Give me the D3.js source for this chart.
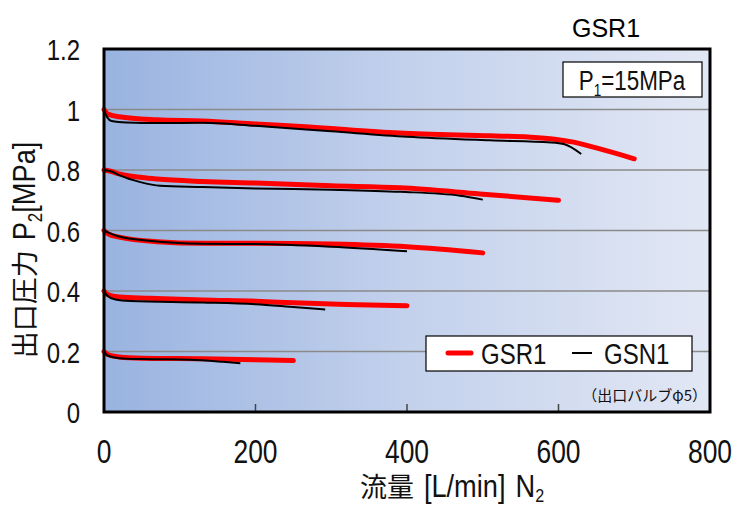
<!DOCTYPE html>
<html>
<head>
<meta charset="utf-8">
<script src="https://cdn.jsdelivr.net/npm/d3@7"></script>
<style>
  body { margin: 0; background: #fff; }
  svg { display: block; }
  .num { font-family: "Liberation Sans", Arial, sans-serif; fill: #111; }
  .cjk { font-family: "Noto Sans CJK JP", sans-serif; fill: #111; }
</style>
</head>
<body>
<svg id="chart"></svg>
<script>
// values, one array per curve (flow L/min, outlet pressure MPa)
var gsr1Flow = [
  [0, 5, 20, 70, 130, 200, 260, 390, 510, 560, 595, 620, 650, 700],
  [0, 10, 20, 50, 70, 130, 200, 300, 391, 496, 600],
  [0, 5, 20, 70, 130, 200, 300, 400, 500],
  [0, 5, 20, 60, 130, 200, 250, 320, 400],
  [0, 5, 20, 50, 130, 200, 250]
];
var gsr1Pressure = [
  [1.0, 0.985, 0.976, 0.966, 0.962, 0.952, 0.944, 0.922, 0.913, 0.909, 0.902, 0.892, 0.873, 0.837],
  [0.8, 0.795, 0.787, 0.775, 0.77, 0.762, 0.757, 0.748, 0.741, 0.721, 0.70],
  [0.6, 0.59, 0.578, 0.563, 0.558, 0.558, 0.555, 0.546, 0.526],
  [0.4, 0.388, 0.38, 0.376, 0.37, 0.366, 0.361, 0.355, 0.351],
  [0.2, 0.19, 0.182, 0.178, 0.176, 0.173, 0.170]
];
var gsn1Flow = [
  [0, 4, 10, 30, 70, 130, 200, 300, 400, 510, 590, 608, 630],
  [0, 10, 20, 48, 74, 130, 200, 300, 391, 470, 500],
  [0, 5, 20, 60, 130, 200, 300, 400],
  [0, 4, 15, 35, 130, 200, 245, 292],
  [0, 5, 20, 50, 114, 157, 180]
];
var gsn1Pressure = [
  [1.0, 0.975, 0.962, 0.957, 0.955, 0.956, 0.946, 0.928, 0.91, 0.898, 0.891, 0.885, 0.853],
  [0.8, 0.795, 0.783, 0.76, 0.748, 0.744, 0.739, 0.735, 0.728, 0.715, 0.702],
  [0.6, 0.594, 0.58, 0.566, 0.556, 0.555, 0.546, 0.531],
  [0.4, 0.385, 0.372, 0.367, 0.362, 0.356, 0.348, 0.339],
  [0.2, 0.186, 0.178, 0.175, 0.173, 0.166, 0.161]
];
var xTicks = [0, 200, 400, 600, 800];
var yTicks = [0, 0.2, 0.4, 0.6, 0.8, 1, 1.2];
var seriesNames = ["GSR1", "GSN1"];

var width = 739, height = 509;
var margin = { top: 49, right: 29, bottom: 97, left: 104 };
var iw = width - margin.left - margin.right;
var ih = height - margin.top - margin.bottom;
var narrow = 0.8; // the reference uses a condensed face

var svg = d3.select("#chart")
    .attr("width", width)
    .attr("height", height);

var grad = svg.append("defs").append("linearGradient")
    .attr("id", "bg")
    .attr("x1", "0%").attr("x2", "100%")
    .attr("y1", "0%").attr("y2", "0%");
grad.append("stop").attr("offset", "0%").attr("stop-color", "#99b3e0");
grad.append("stop").attr("offset", "50%").attr("stop-color", "#c3d1ec");
grad.append("stop").attr("offset", "100%").attr("stop-color", "#e2e7f4");

var x = d3.scaleLinear().domain([0, 800]).range([0, iw]);
var y = d3.scaleLinear().domain([0, 1.2]).range([ih, 0]);

// lays out runs of text one after another, each with its own size and squeeze
function runs(parent, list, tx, ty, anchor, rotate) {
    var grp = parent.append("g");
    var inner = grp.append("g");
    var cx = 0;
    list.forEach(r => {
        var t = inner.append("text")
            .attr("class", r.cls)
            .attr("font-size", r.size)
            .attr("transform", "translate(" + cx + "," + (r.dy || 0) + ") scale(" + r.sx + ",1)")
            .text(r.text);
        cx += t.node().getComputedTextLength() * r.sx + (r.gap || 0);
    });
    var shift = anchor === "middle" ? -cx / 2 : anchor === "end" ? -cx : 0;
    inner.attr("transform", "translate(" + shift + ",0)");
    grp.attr("transform", "translate(" + tx + "," + ty + ")" + (rotate ? " rotate(" + rotate + ")" : ""));
    return grp;
}

var g = svg.append("g")
    .attr("transform", "translate(" + margin.left + "," + margin.top + ")");

g.append("rect")
    .attr("width", iw)
    .attr("height", ih)
    .attr("fill", "url(#bg)");

// horizontal grid
g.selectAll(".grid")
  .data(yTicks.filter(d => d > 0 && d < 1.2))
  .enter()
    .append("line")
    .attr("x1", 0).attr("x2", iw)
    .attr("y1", d => y(d)).attr("y2", d => y(d))
    .attr("stroke", "#8a8a8a")
    .attr("stroke-width", 1.5);

// small ticks on the bottom axis, pointing inward
g.selectAll(".xtick")
  .data(xTicks.filter(d => d > 0 && d < 800))
  .enter()
    .append("line")
    .attr("x1", d => x(d)).attr("x2", d => x(d))
    .attr("y1", ih).attr("y2", ih - 8)
    .attr("stroke", "#444")
    .attr("stroke-width", 1.5);

var line = d3.line()
    .x(d => x(d[0]))
    .y(d => y(d[1]))
    .curve(d3.curveMonotoneX);

function pairs(xs, ys) {
    return xs.map((v, i) => [v, ys[i]]);
}

g.selectAll(".gsr1")
  .data(gsr1Flow.map((f, i) => pairs(f, gsr1Pressure[i])))
  .enter()
    .append("path")
    .attr("d", line)
    .attr("fill", "none")
    .attr("stroke", "#ff0000")
    .attr("stroke-width", 5)
    .attr("stroke-linecap", "round");

g.selectAll(".gsn1")
  .data(gsn1Flow.map((f, i) => pairs(f, gsn1Pressure[i])))
  .enter()
    .append("path")
    .attr("d", line)
    .attr("fill", "none")
    .attr("stroke", "#000")
    .attr("stroke-width", 2);

// frame
g.append("rect")
    .attr("width", iw)
    .attr("height", ih)
    .attr("fill", "none")
    .attr("stroke", "#000")
    .attr("stroke-width", 3);

// tick labels
yTicks.forEach(d => {
    runs(svg, [{ cls: "num", size: 30, sx: narrow, text: d }], 80, margin.top + y(d) + 11, "end");
});
xTicks.forEach(d => {
    runs(svg, [{ cls: "num", size: 33, sx: narrow, text: d }], margin.left + x(d), 463, "middle");
});

// axis titles
runs(svg, [
    { cls: "cjk", size: 27, sx: 1, text: "流量", gap: 10 },
    { cls: "num", size: 32, sx: 0.85, text: "[L/min]", gap: 10 },
    { cls: "num", size: 32, sx: 0.85, text: "N" },
    { cls: "num", size: 19, sx: 0.85, text: "2", dy: 5 }
], 452, 497, "middle");

runs(svg, [
    { cls: "cjk", size: 27, sx: 1, text: "出口圧力", gap: 10 },
    { cls: "num", size: 32, sx: 0.85, text: "P" },
    { cls: "num", size: 20, sx: 0.85, text: "2", dy: 7 },
    { cls: "num", size: 32, sx: 0.85, text: "[MPa]" }
], 35, 250, "middle", -90);

// chart title
svg.append("text")
    .attr("x", 572)
    .attr("y", 37)
    .attr("font-family", "Liberation Sans, Arial, sans-serif")
    .attr("font-size", 25)
    .attr("fill", "#000")
    .text("GSR1");

// supply pressure box
svg.append("rect")
    .attr("x", 563).attr("y", 62)
    .attr("width", 139).attr("height", 35)
    .attr("fill", "#fff")
    .attr("stroke", "#000")
    .attr("stroke-width", 1.2);
runs(svg, [
    { cls: "num", size: 28, sx: narrow, text: "P" },
    { cls: "num", size: 17, sx: narrow, text: "1", dy: 6 },
    { cls: "num", size: 28, sx: narrow, text: "=15MPa" }
], 632, 90, "middle");

// legend
var legend = svg.append("g").attr("transform", "translate(426,336)");
legend.append("rect")
    .attr("width", 266).attr("height", 35)
    .attr("fill", "#fff")
    .attr("stroke", "#000")
    .attr("stroke-width", 1.2);
var legendItems = [
    { name: seriesNames[0], color: "#ff0000", w: 5, x0: 22, x1: 45, tx: 55 },
    { name: seriesNames[1], color: "#000", w: 2, x0: 146, x1: 166, tx: 178 }
];
legendItems.forEach(d => {
    legend.append("line")
        .attr("x1", d.x0).attr("x2", d.x1)
        .attr("y1", 17).attr("y2", 17)
        .attr("stroke", d.color)
        .attr("stroke-width", d.w)
        .attr("stroke-linecap", d.w > 3 ? "round" : "butt");
    runs(legend, [{ cls: "num", size: 30, sx: narrow, text: d.name }], d.tx, 28, "start");
});

// note
svg.append("text")
    .attr("class", "cjk")
    .attr("x", 707)
    .attr("y", 401)
    .attr("text-anchor", "end")
    .attr("font-size", 15)
    .attr("fill", "#222")
    .text("（出口バルブφ5）");
</script>
</body>
</html>
